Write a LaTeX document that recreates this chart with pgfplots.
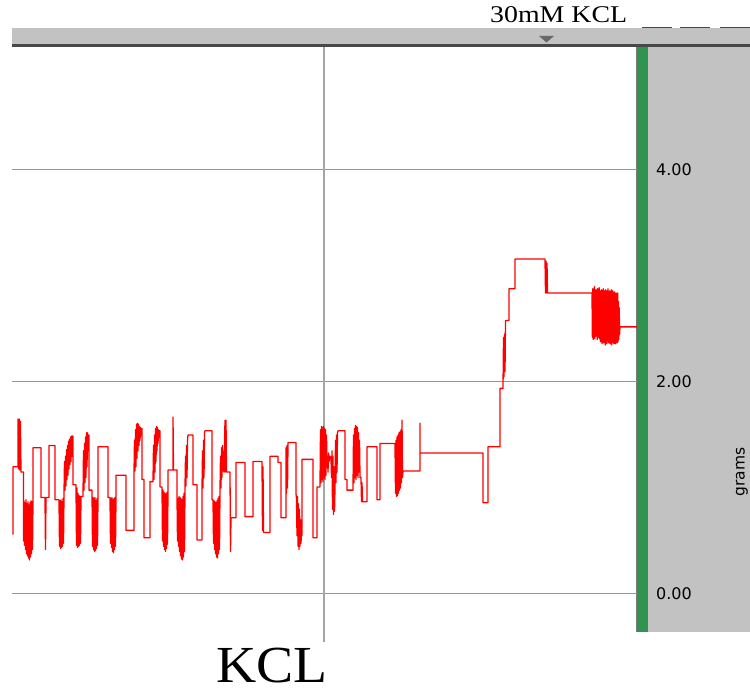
\documentclass[border=0pt]{standalone}
\usepackage{pgfplots}
\pgfplotsset{compat=1.18}
\usepackage{fontspec}
\setmainfont{Liberation Serif}
\newfontfamily\labelfont{DejaVu Sans}

\definecolor{panelgray}{RGB}{194,194,194}
\definecolor{bardark}{RGB}{72,72,72}
\definecolor{chgreen}{RGB}{48,148,80}
\definecolor{edgegray}{RGB}{120,120,120}
\definecolor{gridgray}{RGB}{150,150,150}
\definecolor{vgrid}{RGB}{165,165,165}
\definecolor{markgray}{RGB}{105,105,105}
\definecolor{trace}{RGB}{255,0,0}

\begin{document}
\begin{tikzpicture}
\useasboundingbox (0,0) rectangle (750bp,695bp);
% header bar with its dark lower edge
\fill[panelgray] (12bp,651bp) rectangle (750bp,667bp);
\fill[bardark] (12bp,648bp) rectangle (750bp,651bp);
% scale panel on the right and the channel strip
\fill[panelgray] (648bp,63bp) rectangle (750bp,648bp);
\fill[chgreen] (637bp,63bp) rectangle (648bp,648bp);
\draw[edgegray, line width=1.2bp] (636.6bp,63bp) -- (636.6bp,648bp);
% event marker and dashes
\fill[markgray] (539bp,659bp) -- (554bp,659bp) -- (546.5bp,652.5bp) -- cycle;
\draw[bardark, line width=1.8bp] (642bp,667.5bp) -- (672bp,667.5bp);
\draw[bardark, line width=1.8bp] (680bp,667.5bp) -- (710bp,667.5bp);
\draw[bardark, line width=1.8bp] (720bp,667.5bp) -- (750bp,667.5bp);
% annotations
\node[anchor=base west, inner sep=0, xscale=1.16] at (490bp,672.5bp) {\fontsize{24bp}{24bp}\selectfont 30mM KCL};
\node[anchor=base west, inner sep=0, xscale=1.07] at (216bp,13bp) {\fontsize{52bp}{52bp}\selectfont KCL};
\node[rotate=90, anchor=base, inner sep=0] at (744.5bp,223bp) {\labelfont\fontsize{15.5bp}{15.5bp}\selectfont grams};

\begin{axis}[
  at={(12bp,63bp)}, anchor=south west,
  scale only axis, width=625bp, height=585bp,
  xmin=12, xmax=637, ymin=-0.3585, ymax=5.1604,
  axis line style={draw=none},
  xtick=\empty, ytick={0,2,4}, yticklabels={,,},
  major tick length=0,
  ymajorgrids, grid style={gridgray, line width=1bp},
  clip=false]

\draw[vgrid, line width=1.5bp] (axis cs:324,-0.453) -- (axis cs:324,5.16);

\node[anchor=west, inner sep=0] at (axis cs:656,4) {\labelfont\fontsize{16bp}{16bp}\selectfont 4.00};
\node[anchor=west, inner sep=0] at (axis cs:656,2) {\labelfont\fontsize{16bp}{16bp}\selectfont 2.00};
\node[anchor=west, inner sep=0] at (axis cs:656,0) {\labelfont\fontsize{16bp}{16bp}\selectfont 0.00};

\addplot[trace, line width=1.3bp, line join=round, mark=none] coordinates {
(13,0.56) (13,1.20) (18,1.20)
(18,1.65) (18.6,1.18) (19.2,1.65) (19.8,1.17) (20.4,1.63) (21,1.15)
(23.5,1.15) (23.5,0.50)
(24,0.88) (24.5,0.46) (25,0.86) (25.5,0.42) (26,0.89) (26.5,0.38) (27,0.85) (27.5,0.36) (28,0.87) (28.5,0.34) (29,0.84) (29.5,0.32) (30,0.86) (30.5,0.35) (31,0.88) (31.5,0.38) (32,0.87) (32.5,0.42) (33,0.89)
(33,1.38) (41,1.38) (41,0.91) (45,0.91) (45.5,0.42) (46,0.91) (49,0.91) (49,1.40) (55,1.40) (55,0.89) (59,0.89)
(59.5,0.45) (60,0.88) (60.5,0.43) (61,0.89) (61.5,0.44) (62,0.87) (62.5,0.45) (63,0.90) (63.5,0.48) (64,0.95)
(64.5,1.25) (65,0.98) (65.5,1.30) (66,1.02) (66.5,1.36) (67,1.08) (67.5,1.40) (68,1.12) (68.5,1.44) (69,1.18) (69.5,1.46) (70,1.22) (70.5,1.48) (71,1.25) (71.5,1.49) (72,1.30) (72.5,1.49) (73,1.49)
(73,1.03) (76,1.03)
(76.5,0.46) (77,1.00) (77.5,0.44) (78,0.95) (78.5,0.45) (79,0.93) (79.5,0.46) (80,0.92) (80.5,0.48) (81,0.92)
(83,0.92)
(83.5,1.35) (84,0.98) (84.5,1.42) (85,1.05) (85.5,1.48) (86,1.10) (86.5,1.52) (87,1.20) (87.5,1.52) (88,1.35) (88.5,1.50) (89,1.50)
(89,0.98) (92,0.98)
(92.5,0.45) (93,0.91) (93.5,0.42) (94,0.90) (94.5,0.40) (95,0.91) (95.5,0.41) (96,0.88) (96.5,0.43) (97,0.90) (97.5,0.46) (98,0.91)
(98,1.39) (108,1.39) (108,0.91) (110,0.91)
(110.5,0.48) (111,0.90) (111.5,0.44) (112,0.91) (112.5,0.40) (113,0.89) (113.5,0.39) (114,0.90) (114.5,0.42) (115,0.91) (115.5,0.45) (116,0.91)
(116,1.12) (126,1.12) (126,0.60) (134,0.60) (134,1.14)
(134.5,1.45) (135,1.16) (135.5,1.55) (136,1.20) (136.5,1.60) (137,1.28) (137.5,1.61) (138,1.35) (138.5,1.60) (139,1.40) (139.5,1.58) (140,1.45) (140.5,1.57) (141,1.50) (141.5,1.56) (142,1.56)
(142,1.08) (144,1.08) (144,0.53) (150,0.53) (150,1.06) (153,1.06)
(153.5,1.40) (154,1.08) (154.5,1.50) (155,1.15) (155.5,1.56) (156,1.25) (156.5,1.58) (157,1.35) (157.5,1.57) (158,1.42) (158.5,1.55) (159,1.48) (159.5,1.54) (160,1.54)
(160,1.01) (162,1.01)
(162.5,0.50) (163,0.98) (163.5,0.45) (164,0.96) (164.5,0.42) (165,0.95) (165.5,0.40) (166,0.94) (166.5,0.43) (167,0.96) (167.5,0.47) (168,0.98)
(168,1.17) (173,1.17) (173,1.67) (173.5,1.17) (177,1.17) (177,0.92)
(177.5,0.50) (178,0.90) (178.5,0.45) (179,0.92) (179.5,0.40) (180,0.91) (180.5,0.36) (181,0.90) (181.5,0.33) (182,0.89) (182.5,0.32) (183,0.92) (183.5,0.35) (184,0.95) (184.5,0.40) (185,1.00)
(185.5,1.30) (186,1.02) (186.5,1.40) (187,1.10) (187.5,1.45) (188,1.50)
(193,1.50) (193,1.03) (197,1.03) (197,0.51) (202,0.51) (202,0.98)
(202.5,1.35) (203,1.00) (203.5,1.45) (204,1.10) (204.5,1.52) (205,1.54)
(212,1.54) (212,0.89) (213,0.89)
(213.5,0.48) (214,0.88) (214.5,0.42) (215,0.87) (215.5,0.38) (216,0.86) (216.5,0.35) (217,0.88) (217.5,0.34) (218,0.90) (218.5,0.38) (219,0.92) (219.5,0.42) (220,0.98)
(220.5,1.30) (221,1.00) (221.5,1.38) (222,1.10) (222.5,1.40) (223,1.20)
(224,1.15) (225,1.64) (225.5,1.15) (226,1.64) (226.5,1.15) (227,1.15)
(230,1.15) (230.5,0.40) (231,0.72) (236,0.72) (236,1.24) (245,1.24) (245,0.73) (253,0.73) (253,1.25) (262,1.25)
(262.5,0.60) (263,1.20) (263.5,0.58) (264,0.58)
(270,0.58) (270,1.30) (278,1.30) (278,1.24) (281,1.24) (281,0.72) (286,0.72) (286,1.38)
(286.5,0.95) (287,1.40) (287.5,1.00) (288,1.43)
(296,1.43) (296,0.95)
(296.5,0.90) (297,0.55) (297.5,0.92) (298,0.45) (298.5,0.85) (299,0.42) (299.5,0.80) (300,0.45) (300.5,0.70) (301,0.48) (301.5,0.60) (302,0.55)
(302,1.27) (313,1.27) (313,0.53) (317,0.53) (317,1.01) (320,1.01)
(320.5,1.55) (321,1.05) (321.5,1.58) (322,1.08) (322.5,1.57) (323,1.06) (323.5,1.58) (324,1.10) (324.5,1.56) (325,1.08) (325.5,1.55) (326,1.12) (326.5,1.50) (327,1.20)
(327.5,1.30) (328,1.15) (328.5,1.33) (329,1.25) (330,1.30) (331,1.28) (331.5,1.10)
(332,1.35) (332.5,0.80) (333,1.30) (333.5,0.75) (334,1.20) (334.5,0.78) (335,1.00)
(335.5,1.45) (336,1.05) (336.5,1.50) (337,1.15) (337.5,1.52) (338,1.54)
(345,1.54) (345,1.08) (347,1.08) (347,0.98) (353,0.98)
(353.5,1.50) (354,1.05) (354.5,1.56) (355,1.10) (355.5,1.59) (356,1.08) (356.5,1.58) (357,1.12) (357.5,1.57) (358,1.10) (358.5,1.52) (359,1.15) (359.5,1.45) (360,1.10)
(361,1.10) (361.5,0.87) (362,1.05) (362.5,0.87) (367,0.87) (367,1.39) (377,1.39) (377,0.89) (380,0.89) (380,1.42) (395,1.42)
(395.5,0.95) (396,1.45) (396.5,0.92) (397,1.48) (397.5,0.93) (398,1.50) (398.5,0.95) (399,1.52) (399.5,0.98) (400,1.53) (400.5,1.00) (401,1.55) (401.5,1.05) (402,1.64) (402.5,1.10) (403,1.16)
(420,1.16) (420,1.61) (420,1.33) (483,1.33) (483,0.86) (488,0.86) (488,1.39) (500,1.39) (500,1.94) (503,1.94)
(503.5,2.42) (504,2.05) (504.5,2.45) (505,2.10) (505.5,2.58) (509,2.58) (509,2.88) (515,2.88) (515,3.16) (545,3.16)
(545.5,2.84) (546,3.14) (546.5,2.84) (547,3.12) (547.5,2.84) (548,2.84)
(592,2.84)
(592.4,2.42) (592.8,2.88) (593.2,2.40) (593.6,2.86) (594,2.45) (594.4,2.90) (594.8,2.41) (595.2,2.85) (595.6,2.43) (596,2.87) (596.4,2.44) (596.8,2.82) (597.2,2.40) (597.6,2.88) (598,2.42) (598.4,2.84) (598.8,2.45) (599.2,2.89) (599.6,2.41) (600,2.86)
(600.4,2.38) (600.8,2.84) (601.2,2.40) (601.6,2.87) (602,2.36) (602.4,2.85) (602.8,2.39) (603.2,2.88) (603.6,2.37) (604,2.84) (604.4,2.40) (604.8,2.86) (605.2,2.35) (605.6,2.87) (606,2.38) (606.4,2.83) (606.8,2.36) (607.2,2.86) (607.6,2.40) (608,2.88)
(608.4,2.37) (608.8,2.85) (609.2,2.39) (609.6,2.86) (610,2.36) (610.4,2.84) (610.8,2.38) (611.2,2.87) (611.6,2.35) (612,2.85) (612.4,2.39) (612.8,2.86) (613.2,2.37) (613.6,2.84) (614,2.36) (614.4,2.85) (614.8,2.38) (615.2,2.83) (615.6,2.36) (616,2.84)
(616.4,2.39) (616.8,2.82) (617.2,2.37) (617.6,2.84) (618,2.38) (618.4,2.76) (618.8,2.40) (619.2,2.70) (619.6,2.45) (620,2.52)
(637,2.52)
};
\end{axis}
\end{tikzpicture}
\end{document}
